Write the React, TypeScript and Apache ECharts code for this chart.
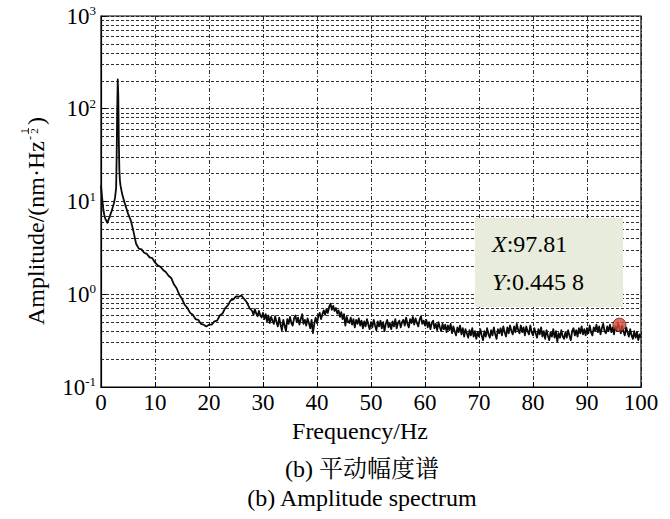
import React, { useEffect, useRef } from "react";
import * as echarts from "echarts";

const FONT = '"Liberation Serif", "Times New Roman", serif';
const CJK_FONT = '"Liberation Serif", "Noto Serif CJK SC", "Noto Sans CJK SC", serif';

// Low-frequency part (0 – 4.8 Hz), irregular sampling around the 3.1 Hz peak
const lowFreq = [0, 0.2, 0.4, 0.6, 0.8, 1.0, 1.2, 1.4, 1.6, 1.8, 2.0, 2.2, 2.4, 2.6, 2.8, 2.9, 3.0, 3.1, 3.2, 3.3, 3.4, 3.5, 3.6, 3.8, 4.0, 4.2, 4.4, 4.6, 4.8];
const lowAmp = [15, 11, 8.5, 7.2, 6.5, 6.2, 5.9, 6.4, 6.8, 7.4, 8.0, 8.8, 9.6, 11, 14, 30, 95, 207, 140, 45, 22, 17, 15, 13, 11.5, 10.5, 9.6, 8.8, 8.1];

// 5 Hz – 27.5 Hz, every 0.5 Hz
const midStart = 5;
const midStep = 0.5;
const midAmp = [
  7.4, 6.3, 4.8, 3.5, 3.1, 3.05, 2.8, 2.72, 2.5, 2.45,
  2.2, 2.05, 1.98, 1.83, 1.74, 1.58, 1.5, 1.28, 1.16, 0.99,
  0.89, 0.77, 0.71, 0.63, 0.6, 0.54, 0.53, 0.48, 0.47, 0.45,
  0.47, 0.47, 0.51, 0.52, 0.59, 0.62, 0.71, 0.76, 0.86, 0.88,
  0.95, 0.94, 0.97, 0.89, 0.82, 0.71,
];

// 28 Hz – 100 Hz, every 0.25 Hz (noisy floor)
const noisyStart = 28;
const noisyStep = 0.25;
const noisyAmp = [
  0.66, 0.6, 0.69, 0.62, 0.58, 0.66, 0.59, 0.56,
  0.63, 0.54, 0.61, 0.51, 0.59, 0.49, 0.57, 0.52,
  0.48, 0.58, 0.5, 0.45, 0.56, 0.47, 0.41, 0.53,
  0.46, 0.4, 0.54, 0.48, 0.57, 0.49, 0.46, 0.55,
  0.59, 0.5, 0.56, 0.47, 0.54, 0.61, 0.48, 0.53,
  0.46, 0.55, 0.49, 0.43, 0.53, 0.38, 0.48, 0.56,
  0.49, 0.58, 0.63, 0.54, 0.61, 0.67, 0.6, 0.69,
  0.63, 0.73, 0.79, 0.68, 0.75, 0.66, 0.71, 0.62,
  0.67, 0.57, 0.64, 0.54, 0.61, 0.46, 0.57, 0.51,
  0.49, 0.56, 0.47, 0.54, 0.44, 0.53, 0.48, 0.55,
  0.46, 0.52, 0.43, 0.51, 0.45, 0.54, 0.47, 0.42,
  0.5, 0.44, 0.53, 0.46, 0.41, 0.51, 0.45, 0.52,
  0.43, 0.5, 0.4, 0.48, 0.53, 0.44, 0.49, 0.42,
  0.51, 0.45, 0.54, 0.43, 0.49, 0.52, 0.44, 0.5,
  0.53, 0.46, 0.56, 0.48, 0.44, 0.54, 0.49, 0.57,
  0.47, 0.55, 0.49, 0.45, 0.53, 0.58, 0.48, 0.52,
  0.46, 0.53, 0.44, 0.5, 0.42, 0.49, 0.52, 0.43,
  0.48, 0.41, 0.5, 0.44, 0.4, 0.48, 0.42, 0.47,
  0.39, 0.46, 0.41, 0.48, 0.38, 0.45, 0.4, 0.36,
  0.44, 0.39, 0.46, 0.37, 0.43, 0.35, 0.42, 0.38,
  0.34, 0.41, 0.36, 0.43, 0.35, 0.4, 0.33, 0.39,
  0.35, 0.42, 0.36, 0.32, 0.4, 0.35, 0.43, 0.37,
  0.34, 0.41, 0.36, 0.44, 0.37, 0.33, 0.42, 0.38,
  0.43, 0.36, 0.45, 0.39, 0.35, 0.44, 0.38, 0.46,
  0.4, 0.37, 0.45, 0.39, 0.48, 0.41, 0.38, 0.46,
  0.39, 0.44, 0.36, 0.45, 0.4, 0.37, 0.46, 0.39,
  0.36, 0.43, 0.38, 0.34, 0.42, 0.37, 0.44, 0.35,
  0.4, 0.33, 0.41, 0.36, 0.32, 0.39, 0.35, 0.42,
  0.34, 0.4, 0.31, 0.38, 0.34, 0.41, 0.35, 0.33,
  0.39, 0.34, 0.41, 0.36, 0.32, 0.4, 0.43, 0.36,
  0.41, 0.35, 0.43, 0.38, 0.45, 0.37, 0.42, 0.36,
  0.43, 0.38, 0.46, 0.39, 0.36, 0.44, 0.4, 0.47,
  0.39, 0.45, 0.37, 0.43, 0.48, 0.4, 0.38, 0.45,
  0.4, 0.47, 0.39, 0.44, 0.37, 0.45, 0.41, 0.48,
  0.44, 0.38, 0.46, 0.4, 0.36, 0.44, 0.39, 0.35,
  0.42, 0.36, 0.33, 0.4, 0.34, 0.39, 0.32, 0.37,
  0.34,
];

// Cursor marker position (as drawn) and its read-out text
const markerPoint = [96.0, 0.47];
const readoutX = "97.81";
const readoutY = "0.445 8";

// Axis settings
const xTicks = { min: 0, max: 100, interval: 10 };
const yDecades = [0.1, 1, 10, 100];
const minorMultipliers = [2, 3, 4, 5, 6, 7, 8, 9];

const xTitle = "Frequency/Hz";
const yTitleMain = "Amplitude/(nm·Hz";
const captionCn = "(b) 平动幅度谱";
const captionEn = "(b) Amplitude spectrum";

export default function App() {
  const ref = useRef<HTMLDivElement>(null);

  useEffect(() => {
    if (!ref.current) return;
    const chart = echarts.init(ref.current, null, { renderer: "svg" });

    const seriesData = lowFreq
      .map((f, i) => [f, lowAmp[i]])
      .concat(midAmp.map((a, i) => [midStart + i * midStep, a]))
      .concat(noisyAmp.map((a, i) => [noisyStart + i * noisyStep, a]));

    const minorLines: number[] = [];
    yDecades.forEach((d) => minorMultipliers.forEach((m) => minorLines.push(+(d * m).toPrecision(6))));

    // measure y title width
    const cv = document.createElement("canvas");
    const ctx = cv.getContext("2d")!;
    ctx.font = `24px ${FONT}`;
    const W = ctx.measureText(yTitleMain).width;

    const gridColor = "#1a1a1a";

    chart.setOption({
      animation: false,
      backgroundColor: "#fff",
      grid: {
        left: 101,
        right: 29,
        top: 16,
        bottom: 132,
        show: true,
        borderColor: "#000",
        borderWidth: 1.2,
        backgroundColor: "transparent",
      },
      xAxis: {
        type: "value",
        min: xTicks.min,
        max: xTicks.max,
        interval: xTicks.interval,
        axisLine: { show: true, lineStyle: { color: "#000", width: 1.2 } },
        axisTick: { show: true, inside: true, length: 5, lineStyle: { color: "#000" } },
        axisLabel: { fontSize: 23, fontFamily: FONT, color: "#000", margin: 4 },
        splitLine: { show: true, lineStyle: { color: gridColor, width: 0.9, type: [4, 2, 1, 2] } },
        name: xTitle,
        nameLocation: "middle",
        nameGap: 32,
        nameTextStyle: { fontSize: 24, fontFamily: FONT, color: "#000", padding: [0, 22, 0, 0] },
      },
      yAxis: {
        type: "log",
        logBase: 10,
        min: 0.1,
        max: 1000,
        axisLine: { show: true, lineStyle: { color: "#000", width: 1.2 } },
        axisTick: { show: true, inside: true, length: 5, lineStyle: { color: "#000" } },
        axisLabel: {
          margin: 5,
          formatter: (v: number) => `{b|10}{s|${Math.round(Math.log10(v))}}`,
          rich: {
            b: { fontSize: 23, fontFamily: FONT, color: "#000", lineHeight: 24 },
            s: { fontSize: 13, fontFamily: FONT, color: "#000", lineHeight: 13, verticalAlign: "top" },
          },
        },
        splitLine: { show: true, lineStyle: { color: gridColor, width: 0.9, type: [3, 2] } },
        minorTick: { show: false },
      },
      series: [
        {
          type: "line",
          data: seriesData,
          showSymbol: false,
          symbol: "none",
          z: 3,
          lineStyle: { color: "#0a0a0a", width: 1.8, join: "round" },
          markLine: {
            silent: true,
            z: 1,
            symbol: ["none", "none"],
            label: { show: false },
            lineStyle: { color: gridColor, width: 0.9, type: [3, 2] },
            data: minorLines.map((v) => ({ yAxis: v })),
          },
        },
        {
          type: "scatter",
          data: [markerPoint],
          symbolSize: 13,
          z: 5,
          itemStyle: { color: "#d9473a", borderColor: "#5a1a12", borderWidth: 1 },
        },
      ],
      graphic: [
        {
          type: "rect",
          shape: { x: 475, y: 218, width: 148, height: 89 },
          style: { fill: "#e8ecdc" },
          z: 10,
        },
        {
          type: "text",
          x: 492,
          y: 244,
          z: 11,
          style: {
            text: `{i|X}{n|:${readoutX}}`,
            textVerticalAlign: "middle",
            rich: {
              i: { fontSize: 24, fontFamily: FONT, fontStyle: "italic", fill: "#000" },
              n: { fontSize: 24, fontFamily: FONT, fill: "#000" },
            },
          },
        },
        {
          type: "text",
          x: 492,
          y: 282,
          z: 11,
          style: {
            text: `{i|Y}{n|:${readoutY}}`,
            textVerticalAlign: "middle",
            rich: {
              i: { fontSize: 24, fontFamily: FONT, fontStyle: "italic", fill: "#000" },
              n: { fontSize: 24, fontFamily: FONT, fill: "#000" },
            },
          },
        },
        {
          type: "group",
          x: 36,
          y: 325,
          rotation: Math.PI / 2,
          children: [
            {
              type: "text",
              x: 0,
              y: 0,
              style: { text: yTitleMain, fontSize: 24, fontFamily: FONT, fill: "#000", textAlign: "left", textVerticalAlign: "middle" },
            },
            {
              type: "text",
              x: W + 1,
              y: -6,
              style: { text: "-", fontSize: 12, fontFamily: FONT, fill: "#000", textAlign: "left", textVerticalAlign: "middle" },
            },
            {
              type: "text",
              x: W + 10,
              y: -12.5,
              style: { text: "1", fontSize: 11, fontFamily: FONT, fill: "#000", textAlign: "center", textVerticalAlign: "middle" },
            },
            {
              type: "line",
              shape: { x1: W + 7, y1: -7.5, x2: W + 13, y2: -7.5 },
              style: { stroke: "#000", lineWidth: 0.8 },
            },
            {
              type: "text",
              x: W + 10,
              y: -2.5,
              style: { text: "2", fontSize: 11, fontFamily: FONT, fill: "#000", textAlign: "center", textVerticalAlign: "middle" },
            },
            {
              type: "text",
              x: W + 16,
              y: 0,
              style: { text: ")", fontSize: 24, fontFamily: FONT, fill: "#000", textAlign: "left", textVerticalAlign: "middle" },
            },
          ],
        },
        {
          type: "text",
          x: 362,
          y: 469,
          style: { text: captionCn, fontSize: 24, fontFamily: CJK_FONT, fill: "#000", textAlign: "center", textVerticalAlign: "middle" },
        },
        {
          type: "text",
          x: 362,
          y: 498,
          style: { text: captionEn, fontSize: 24, fontFamily: FONT, fill: "#000", textAlign: "center", textVerticalAlign: "middle" },
        },
      ],
    });

    return () => chart.dispose();
  }, []);

  return (
    <div
      ref={ref}
      style={{ position: "fixed", left: 0, top: 0, width: 670, height: 519, background: "#fff" }}
    />
  );
}
